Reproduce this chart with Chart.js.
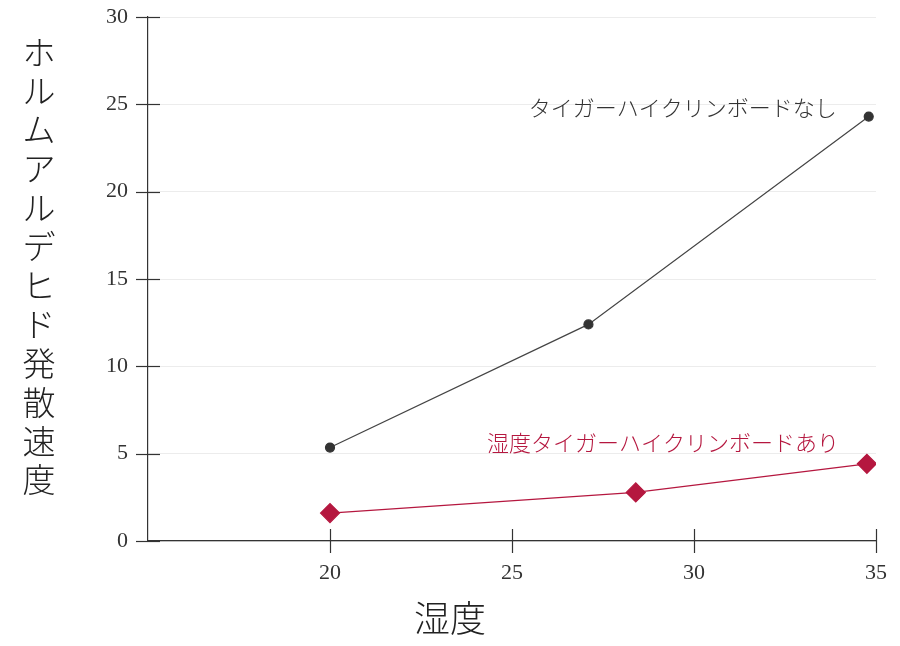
<!DOCTYPE html>
<html>
<head>
<meta charset="utf-8">
<script src="https://cdn.jsdelivr.net/npm/chart.js@4.4.1/dist/chart.umd.min.js"></script>
<style>
html,body{margin:0;padding:0;background:#fff;}
#wrap{width:900px;height:646px;position:relative;}
</style>
</head>
<body>
<div id="wrap"><canvas id="c" width="900" height="646"></canvas></div>
<script>
// ---- data ----
const humidityNone = [20, 27.1, 34.8];
const rateNone = [5.35, 12.4, 24.3];
const humidityWith = [20, 28.4, 34.75];
const rateWith = [1.6, 2.78, 4.42];
const seriesNames = ['タイガーハイクリンボードなし', '湿度タイガーハイクリンボードあり'];
const xTickValues = [20, 25, 30, 35];
const yTickValues = [0, 5, 10, 15, 20, 25, 30];
const yTitle = 'ホルムアルデヒド発散速度';
const xTitle = '湿度';

const RED = '#b5173f';
const DARK = '#333333';
const JP = '"Noto Sans CJK JP", sans-serif';
const NUM = '"Liberation Serif", "DejaVu Serif", serif';

const ptsNone = humidityNone.map((x, i) => ({x, y: rateNone[i]}));
const ptsWith = humidityWith.map((x, i) => ({x, y: rateWith[i]}));

const decor = {
  id: 'decor',
  afterDraw(chart) {
    const ctx = chart.ctx;
    const xs = chart.scales.x, ys = chart.scales.y;
    ctx.save();
    // cross tick marks
    ctx.strokeStyle = DARK;
    ctx.lineWidth = 1.2;
    const L = 12;
    yTickValues.forEach(v => {
      const py = Math.round(ys.getPixelForValue(v)) + 0.5;
      const px = xs.left;
      ctx.beginPath(); ctx.moveTo(px - L, py); ctx.lineTo(px + L, py); ctx.stroke();
    });
    xTickValues.forEach(v => {
      const px = Math.round(xs.getPixelForValue(v)) + 0.5;
      const py = ys.bottom;
      ctx.beginPath(); ctx.moveTo(px, py - L); ctx.lineTo(px, py + L); ctx.stroke();
    });
    // vertical y-axis title
    ctx.fillStyle = '#222';
    ctx.font = '300 33px ' + JP;
    ctx.textAlign = 'center';
    ctx.textBaseline = 'middle';
    const chars = Array.from(yTitle);
    const step = 38.9;
    const y0 = 52;
    chars.forEach((ch, i) => ctx.fillText(ch, 39, y0 + i * step));
    // x-axis title
    ctx.font = '300 36px ' + JP;
    ctx.fillText(xTitle, chart.width / 2, 618);
    // series labels
    ctx.textAlign = 'right';
    ctx.font = '300 22px ' + JP;
    const metaN = chart.getDatasetMeta(0).data;
    const lastN = metaN[metaN.length - 1];
    ctx.fillStyle = DARK;
    ctx.fillText(seriesNames[0], lastN.x - 32, lastN.y - 9);
    const metaW = chart.getDatasetMeta(1).data;
    const lastW = metaW[metaW.length - 1];
    ctx.fillStyle = RED;
    ctx.fillText(seriesNames[1], lastW.x - 28, lastW.y - 21);
    ctx.restore();
  }
};

new Chart(document.getElementById('c'), {
  type: 'line',
  data: {
    datasets: [
      {
        label: seriesNames[0],
        data: ptsNone,
        borderColor: '#444',
        borderWidth: 1.2,
        backgroundColor: DARK,
        pointBackgroundColor: DARK,
        pointBorderColor: DARK,
        pointRadius: 4.5,
        pointStyle: 'circle',
        tension: 0
      },
      {
        label: seriesNames[1],
        data: ptsWith,
        borderColor: RED,
        borderWidth: 1.2,
        backgroundColor: RED,
        pointBackgroundColor: RED,
        pointBorderColor: RED,
        pointRadius: 9.5,
        pointStyle: 'rectRot',
        tension: 0
      }
    ]
  },
  options: {
    responsive: false,
    animation: false,
    devicePixelRatio: 1,
    layout: {padding: {left: 0, right: 24, top: 17, bottom: 0}},
    plugins: {legend: {display: false}, tooltip: {enabled: false}},
    scales: {
      x: {
        type: 'linear',
        min: 15, max: 35,
        afterFit(s) { s.height = 105; s.paddingLeft = 0; s.paddingRight = 0; },
        afterBuildTicks(s) { s.ticks = xTickValues.map(v => ({value: v})); },
        grid: {drawOnChartArea: false, drawTicks: false},
        border: {display: true, color: DARK, width: 1.2},
        ticks: {padding: 19, color: DARK, font: {family: NUM, size: 22}, maxRotation: 0}
      },
      y: {
        type: 'linear',
        min: 0, max: 30,
        afterFit(s) { s.width = 148; s.paddingTop = 0; s.paddingBottom = 0; },
        afterBuildTicks(s) { s.ticks = yTickValues.map(v => ({value: v})); },
        grid: {color: '#ececec', lineWidth: 1, drawTicks: false},
        border: {display: true, color: DARK, width: 1.2},
        ticks: {padding: 20, color: DARK, font: {family: NUM, size: 22}}
      }
    }
  },
  plugins: [decor]
});
</script>
</body>
</html>
